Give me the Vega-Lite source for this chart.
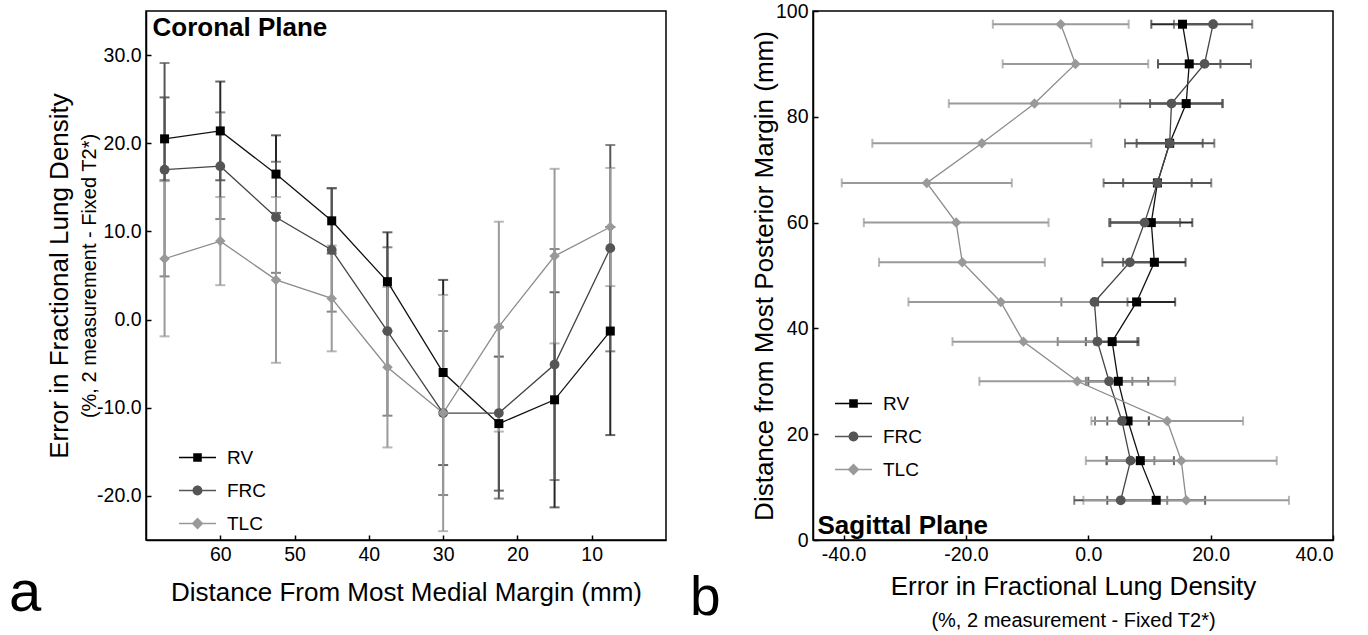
{
  "$schema": "https://vega.github.io/schema/vega-lite/v6.json",
  "padding": {"left": 8, "top": 0, "right": 0, "bottom": 0},
  "background": "white",
  "bounds": "flush",
  "spacing": 147,
  "config": {
    "font": "Liberation Sans",
    "view": {"stroke": "#000", "strokeWidth": 1.5},
    "axis": {
      "grid": false, "domainColor": "#000", "domainWidth": 1.5, "tickColor": "#000", "tickWidth": 1.5,
      "tickSize": -5, "labelPadding": 10, "labelFontSize": 19.5, "labelColor": "#000",
      "labelFont": "Liberation Sans", "titleFont": "Liberation Sans",
      "titleFontSize": 26, "titleFontWeight": "normal", "titleColor": "#000"
    },
    "legend": {"labelFontSize": 19, "labelColor": "#000", "labelFont": "Liberation Sans"},
    "title": {"color": "#000", "fontWeight": "normal", "font": "Liberation Sans"}
  },
  "datasets": {
    "coronal": [
      {"pos": 67.5, "series": "RV", "value": 20.5, "lo": 15.8, "hi": 25.2},
      {"pos": 67.5, "series": "FRC", "value": 17.0, "lo": 4.9, "hi": 29.1},
      {"pos": 67.5, "series": "TLC", "value": 6.9, "lo": -1.9, "hi": 15.7},
      {"pos": 60, "series": "RV", "value": 21.4, "lo": 15.8, "hi": 27.0},
      {"pos": 60, "series": "FRC", "value": 17.4, "lo": 11.4, "hi": 23.5},
      {"pos": 60, "series": "TLC", "value": 8.9, "lo": 3.9, "hi": 13.9},
      {"pos": 52.5, "series": "RV", "value": 16.5, "lo": 12.1, "hi": 20.9},
      {"pos": 52.5, "series": "FRC", "value": 11.6, "lo": 5.3, "hi": 17.9},
      {"pos": 52.5, "series": "TLC", "value": 4.5, "lo": -4.9, "hi": 13.9},
      {"pos": 45, "series": "RV", "value": 11.2, "lo": 7.5, "hi": 14.9},
      {"pos": 45, "series": "FRC", "value": 7.9, "lo": 0.9, "hi": 14.9},
      {"pos": 45, "series": "TLC", "value": 2.4, "lo": -3.6, "hi": 8.4},
      {"pos": 37.5, "series": "RV", "value": 4.3, "lo": -1.3, "hi": 9.9},
      {"pos": 37.5, "series": "FRC", "value": -1.3, "lo": -10.9, "hi": 8.2},
      {"pos": 37.5, "series": "TLC", "value": -5.4, "lo": -14.5, "hi": 3.7},
      {"pos": 30, "series": "RV", "value": -6.0, "lo": -16.5, "hi": 4.5},
      {"pos": 30, "series": "FRC", "value": -10.6, "lo": -19.9, "hi": -1.3},
      {"pos": 30, "series": "TLC", "value": -10.6, "lo": -24.0, "hi": 2.8},
      {"pos": 22.5, "series": "RV", "value": -11.8, "lo": -19.4, "hi": -4.2},
      {"pos": 22.5, "series": "FRC", "value": -10.6, "lo": -20.3, "hi": -0.9},
      {"pos": 22.5, "series": "TLC", "value": -0.8, "lo": -12.7, "hi": 11.1},
      {"pos": 15, "series": "RV", "value": -9.1, "lo": -21.3, "hi": 3.1},
      {"pos": 15, "series": "FRC", "value": -5.1, "lo": -18.2, "hi": 8.0},
      {"pos": 15, "series": "TLC", "value": 7.2, "lo": -2.7, "hi": 17.1},
      {"pos": 7.5, "series": "RV", "value": -1.3, "lo": -13.1, "hi": 10.5},
      {"pos": 7.5, "series": "FRC", "value": 8.1, "lo": -3.6, "hi": 19.8},
      {"pos": 7.5, "series": "TLC", "value": 10.5, "lo": 3.8, "hi": 17.2}
    ],
    "sagittal": [
      {"pos": 97.5, "series": "RV", "value": 15.4, "lo": 10.3, "hi": 20.5},
      {"pos": 97.5, "series": "FRC", "value": 20.4, "lo": 14.0, "hi": 26.8},
      {"pos": 97.5, "series": "TLC", "value": -4.5, "lo": -15.6, "hi": 6.6},
      {"pos": 90, "series": "RV", "value": 16.5, "lo": 11.4, "hi": 21.6},
      {"pos": 90, "series": "FRC", "value": 19.0, "lo": 11.4, "hi": 26.6},
      {"pos": 90, "series": "TLC", "value": -2.1, "lo": -14.0, "hi": 9.8},
      {"pos": 82.5, "series": "RV", "value": 16.0, "lo": 10.1, "hi": 21.9},
      {"pos": 82.5, "series": "FRC", "value": 13.6, "lo": 5.2, "hi": 22.0},
      {"pos": 82.5, "series": "TLC", "value": -8.8, "lo": -22.8, "hi": 5.2},
      {"pos": 75, "series": "RV", "value": 13.3, "lo": 7.9, "hi": 18.7},
      {"pos": 75, "series": "FRC", "value": 13.3, "lo": 6.0, "hi": 20.6},
      {"pos": 75, "series": "TLC", "value": -17.4, "lo": -35.3, "hi": 0.5},
      {"pos": 67.5, "series": "RV", "value": 11.3, "lo": 5.7, "hi": 16.9},
      {"pos": 67.5, "series": "FRC", "value": 11.3, "lo": 2.5, "hi": 20.1},
      {"pos": 67.5, "series": "TLC", "value": -26.4, "lo": -40.3, "hi": -12.5},
      {"pos": 60, "series": "RV", "value": 10.3, "lo": 3.6, "hi": 17.0},
      {"pos": 60, "series": "FRC", "value": 9.2, "lo": 3.4, "hi": 15.0},
      {"pos": 60, "series": "TLC", "value": -21.6, "lo": -36.7, "hi": -6.5},
      {"pos": 52.5, "series": "RV", "value": 10.8, "lo": 5.7, "hi": 15.9},
      {"pos": 52.5, "series": "FRC", "value": 6.8, "lo": 2.3, "hi": 11.3},
      {"pos": 52.5, "series": "TLC", "value": -20.6, "lo": -34.2, "hi": -7.1},
      {"pos": 45, "series": "RV", "value": 7.9, "lo": 1.6, "hi": 14.2},
      {"pos": 45, "series": "FRC", "value": 1.0, "lo": -4.4, "hi": 6.4},
      {"pos": 45, "series": "TLC", "value": -14.3, "lo": -29.4, "hi": 0.8},
      {"pos": 37.5, "series": "RV", "value": 3.9, "lo": -0.4, "hi": 8.2},
      {"pos": 37.5, "series": "FRC", "value": 1.5, "lo": -5.0, "hi": 8.0},
      {"pos": 37.5, "series": "TLC", "value": -10.6, "lo": -22.2, "hi": 1.0},
      {"pos": 30, "series": "RV", "value": 4.9, "lo": 0.0, "hi": 9.8},
      {"pos": 30, "series": "FRC", "value": 3.4, "lo": -0.4, "hi": 7.2},
      {"pos": 30, "series": "TLC", "value": -1.8, "lo": -17.8, "hi": 14.2},
      {"pos": 22.5, "series": "RV", "value": 6.5, "lo": 3.1, "hi": 9.9},
      {"pos": 22.5, "series": "FRC", "value": 5.5, "lo": 1.1, "hi": 9.9},
      {"pos": 22.5, "series": "TLC", "value": 12.9, "lo": 0.5, "hi": 25.3},
      {"pos": 15, "series": "RV", "value": 8.5, "lo": 3.0, "hi": 14.0},
      {"pos": 15, "series": "FRC", "value": 6.9, "lo": 3.0, "hi": 10.8},
      {"pos": 15, "series": "TLC", "value": 15.2, "lo": -0.4, "hi": 30.8},
      {"pos": 7.5, "series": "RV", "value": 11.1, "lo": 3.1, "hi": 19.1},
      {"pos": 7.5, "series": "FRC", "value": 5.3, "lo": -2.3, "hi": 12.9},
      {"pos": 7.5, "series": "TLC", "value": 16.0, "lo": -0.8, "hi": 32.8}
    ]
  },
  "hconcat": [
    {
      "width": 520, "height": 529,
      "title": {"text": "a", "orient": "bottom", "anchor": "start", "frame": "group", "fontSize": 58, "baseline": "alphabetic", "offset": 6, "dx": -137},
      "data": {"name": "coronal"},
      "layer": [
        {
          "mark": {"type": "errorbar", "ticks": {"size": 10}, "thickness": 2},
          "encoding": {
            "x": {"field": "pos", "type": "quantitative", "scale": {"domain": [0, 70], "reverse": true, "nice": false, "zero": false},
                  "axis": {"values": [10, 20, 30, 40, 50, 60], "format": "d", "title": "Distance From Most Medial Margin (mm)", "titleY": 60, "titleBaseline": "alphabetic"}},
            "y": {"field": "lo", "type": "quantitative", "scale": {"domain": [-25, 35], "nice": false, "zero": false},
                  "axis": {"values": [-20, -10, 0, 10, 20, 30], "labelExpr": "(datum.value < 0 ? '-' : '') + format(abs(datum.value), '.1f')", "title": "Error in Fractional Lung Density", "titleX": -79, "titleBaseline": "alphabetic"}},
            "y2": {"field": "hi"},
            "color": {"field": "series", "type": "nominal", "scale": {"domain": ["RV", "FRC", "TLC"], "range": ["#262626", "#555555", "#9a9a9a"]}, "legend": null}
          }
        },
        {
          "mark": {"type": "line", "strokeWidth": 1.3},
          "encoding": {
            "x": {"field": "pos", "type": "quantitative", "scale": {"domain": [0, 70], "reverse": true, "nice": false, "zero": false},
                  "axis": {"orient": "top", "domain": false, "ticks": false, "labels": false, "title": "Coronal Plane", "titleX": 6, "titleY": 24, "titleAngle": 0, "titleAlign": "left", "titleBaseline": "alphabetic", "titleFontSize": 26, "titleFontWeight": "bold"}},
            "y": {"field": "value", "type": "quantitative", "scale": {"domain": [-25, 35], "nice": false, "zero": false},
                  "axis": {"orient": "left", "domain": false, "ticks": false, "labels": false, "title": "(%, 2 measurement - Fixed T2*)", "titleFontSize": 20, "titleX": -51, "titleBaseline": "alphabetic"}},
            "color": {"field": "series", "type": "nominal", "scale": {"domain": ["RV", "FRC", "TLC"], "range": ["#111111", "#444444", "#8c8c8c"]}, "legend": null}
          }
        },
        {
          "mark": {"type": "point", "filled": true, "opacity": 1},
          "encoding": {
            "x": {"field": "pos", "type": "quantitative", "scale": {"domain": [0, 70], "reverse": true, "nice": false, "zero": false}, "axis": null},
            "y": {"field": "value", "type": "quantitative", "scale": {"domain": [-25, 35], "nice": false, "zero": false}, "axis": null},
            "color": {"field": "series", "type": "nominal", "scale": {"domain": ["RV", "FRC", "TLC"], "range": ["#000000", "#555555", "#999999"]}, "legend": null},
            "shape": {"field": "series", "type": "nominal", "scale": {"domain": ["RV", "FRC", "TLC"], "range": ["square", "circle", "diamond"]}, "legend": null},
            "size": {"field": "series", "type": "nominal", "scale": {"domain": ["RV", "FRC", "TLC"], "range": [81, 110, 150]}, "legend": null}
          }
        },
        {
          "transform": [{"filter": "datum.series === 'none'"}],
          "mark": {"type": "point", "filled": true, "opacity": 1},
          "encoding": {
            "x": {"field": "pos", "type": "quantitative", "scale": {"domain": [0, 70], "reverse": true, "nice": false, "zero": false}, "axis": null},
            "y": {"field": "value", "type": "quantitative", "scale": {"domain": [-25, 35], "nice": false, "zero": false}, "axis": null},
            "color": {"field": "series", "type": "nominal", "scale": {"domain": ["RV", "FRC", "TLC"], "range": ["#000000", "#555555", "#999999"]},
                      "legend": {"orient": "none", "legendX": 35, "legendY": 430, "title": null, "symbolSize": 1089, "rowPadding": 6, "labelOffset": 13, "padding": 0, "symbolStrokeWidth": 0, "symbolOpacity": 1}},
            "shape": {"field": "series", "type": "nominal", "scale": {"domain": ["RV", "FRC", "TLC"], "range": [
                        "M-1.12,-0.04H1.12V0.04H-1.12Z M-0.26,-0.26H0.26V0.26H-0.26Z",
                        "M-1.12,-0.04H1.12V0.04H-1.12Z M0.3,0A0.3,0.3 0 1,1 -0.3,0A0.3,0.3 0 1,1 0.3,0Z",
                        "M-1.12,-0.04H1.12V0.04H-1.12Z M0,-0.36L0.36,0L0,0.36L-0.36,0Z"]},
                      "legend": {"orient": "none", "legendX": 35, "legendY": 430, "title": null, "symbolSize": 1089, "rowPadding": 6, "labelOffset": 13, "padding": 0, "symbolStrokeWidth": 0, "symbolOpacity": 1}}
          }
        }
      ],
      "resolve": {"scale": {"color": "independent", "shape": "independent", "size": "independent"}, "axis": {"x": "independent", "y": "independent"}}
    },
    {
      "width": 520, "height": 529,
      "title": {"text": "b", "orient": "bottom", "anchor": "start", "frame": "group", "fontSize": 55, "baseline": "alphabetic", "offset": -15, "dx": -123},
      "data": {"name": "sagittal"},
      "layer": [
        {
          "mark": {"type": "errorbar", "ticks": {"size": 9}, "thickness": 2},
          "encoding": {
            "y": {"field": "pos", "type": "quantitative", "scale": {"domain": [0, 100], "nice": false},
                  "axis": {"values": [0, 20, 40, 60, 80, 100], "format": "d", "title": "Distance from Most Posterior Margin (mm)", "titleX": -41, "titleBaseline": "alphabetic"}},
            "x": {"field": "lo", "type": "quantitative", "scale": {"domain": [-45, 40], "nice": false, "zero": false},
                  "axis": {"values": [-40, -20, 0, 20, 40], "labelExpr": "(datum.value < 0 ? '-' : '') + format(abs(datum.value), '.1f')", "title": "Error in Fractional Lung Density", "titleY": 54, "titleBaseline": "alphabetic"}},
            "x2": {"field": "hi"},
            "color": {"field": "series", "type": "nominal", "scale": {"domain": ["RV", "FRC", "TLC"], "range": ["#262626", "#555555", "#9a9a9a"]}, "legend": null}
          }
        },
        {
          "mark": {"type": "line", "strokeWidth": 1.3},
          "encoding": {
            "y": {"field": "pos", "type": "quantitative", "scale": {"domain": [0, 100], "nice": false},
                  "axis": {"orient": "left", "domain": false, "ticks": false, "labels": false, "title": "Sagittal Plane", "titleX": 4, "titleY": 522, "titleAngle": 0, "titleAlign": "left", "titleBaseline": "alphabetic", "titleFontSize": 26, "titleFontWeight": "bold"}},
            "x": {"field": "value", "type": "quantitative", "scale": {"domain": [-45, 40], "nice": false, "zero": false},
                  "axis": {"orient": "bottom", "domain": false, "ticks": false, "labels": false, "title": "(%, 2 measurement - Fixed T2*)", "titleFontSize": 20, "titleY": 86, "titleBaseline": "alphabetic"}},
            "order": {"field": "pos", "type": "quantitative"},
            "color": {"field": "series", "type": "nominal", "scale": {"domain": ["RV", "FRC", "TLC"], "range": ["#111111", "#444444", "#8c8c8c"]}, "legend": null}
          }
        },
        {
          "mark": {"type": "point", "filled": true, "opacity": 1},
          "encoding": {
            "y": {"field": "pos", "type": "quantitative", "scale": {"domain": [0, 100], "nice": false}, "axis": null},
            "x": {"field": "value", "type": "quantitative", "scale": {"domain": [-45, 40], "nice": false, "zero": false}, "axis": null},
            "color": {"field": "series", "type": "nominal", "scale": {"domain": ["RV", "FRC", "TLC"], "range": ["#000000", "#555555", "#999999"]}, "legend": null},
            "shape": {"field": "series", "type": "nominal", "scale": {"domain": ["RV", "FRC", "TLC"], "range": ["square", "circle", "diamond"]}, "legend": null},
            "size": {"field": "series", "type": "nominal", "scale": {"domain": ["RV", "FRC", "TLC"], "range": [81, 110, 150]}, "legend": null}
          }
        },
        {
          "transform": [{"filter": "datum.series === 'none'"}],
          "mark": {"type": "point", "filled": true, "opacity": 1},
          "encoding": {
            "y": {"field": "pos", "type": "quantitative", "scale": {"domain": [0, 100], "nice": false}, "axis": null},
            "x": {"field": "value", "type": "quantitative", "scale": {"domain": [-45, 40], "nice": false, "zero": false}, "axis": null},
            "color": {"field": "series", "type": "nominal", "scale": {"domain": ["RV", "FRC", "TLC"], "range": ["#000000", "#555555", "#999999"]},
                      "legend": {"orient": "none", "legendX": 24, "legendY": 376, "title": null, "symbolSize": 1089, "rowPadding": 6, "labelOffset": 13, "padding": 0, "symbolStrokeWidth": 0, "symbolOpacity": 1}},
            "shape": {"field": "series", "type": "nominal", "scale": {"domain": ["RV", "FRC", "TLC"], "range": [
                        "M-1.12,-0.04H1.12V0.04H-1.12Z M-0.26,-0.26H0.26V0.26H-0.26Z",
                        "M-1.12,-0.04H1.12V0.04H-1.12Z M0.3,0A0.3,0.3 0 1,1 -0.3,0A0.3,0.3 0 1,1 0.3,0Z",
                        "M-1.12,-0.04H1.12V0.04H-1.12Z M0,-0.36L0.36,0L0,0.36L-0.36,0Z"]},
                      "legend": {"orient": "none", "legendX": 24, "legendY": 376, "title": null, "symbolSize": 1089, "rowPadding": 6, "labelOffset": 13, "padding": 0, "symbolStrokeWidth": 0, "symbolOpacity": 1}}
          }
        }
      ],
      "resolve": {"scale": {"color": "independent", "shape": "independent", "size": "independent"}, "axis": {"x": "independent", "y": "independent"}}
    }
  ]
}
